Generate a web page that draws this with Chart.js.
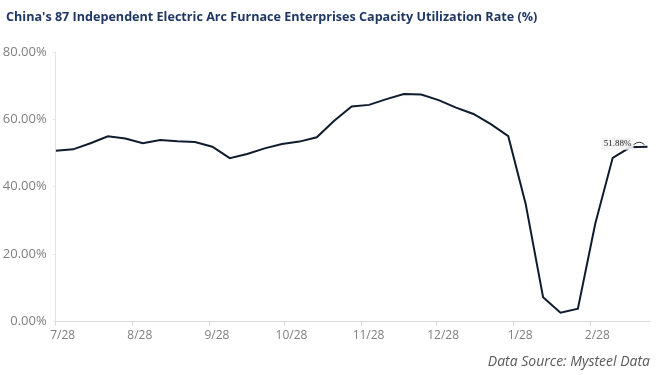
<!DOCTYPE html>
<html>
<head>
<meta charset="utf-8">
<script src="https://cdn.jsdelivr.net/npm/chart.js@4"></script>
<style>
  html, body { margin: 0; padding: 0; background: #ffffff; }
  #wrap { width: 660px; height: 375px; }
</style>
</head>
<body>
<div id="wrap"><canvas id="eafChart" width="660" height="375"></canvas></div>
<script>
const weekDates = [
    '2023-07-28', '2023-08-04', '2023-08-11', '2023-08-18', '2023-08-25',
    '2023-09-01', '2023-09-08', '2023-09-15', '2023-09-22', '2023-09-29',
    '2023-10-06', '2023-10-13', '2023-10-20', '2023-10-27', '2023-11-03',
    '2023-11-10', '2023-11-17', '2023-11-24', '2023-12-01', '2023-12-08',
    '2023-12-15', '2023-12-22', '2023-12-29', '2024-01-05', '2024-01-12',
    '2024-01-19', '2024-01-26', '2024-02-02', '2024-02-09', '2024-02-16',
    '2024-02-23', '2024-03-01', '2024-03-08', '2024-03-15', '2024-03-22'
];
const utilization = [
    50.7, 51.1, 52.9, 55.0, 54.3, 52.9, 53.9, 53.5, 53.3, 51.9,
    48.5, 49.7, 51.4, 52.7, 53.4, 54.7, 59.6, 63.8, 64.3, 66.0,
    67.5, 67.4, 65.7, 63.5, 61.6, 58.6, 55.0, 34.9, 7.2, 2.6,
    3.8, 29.1, 48.6, 51.7, 51.88
];
const tickDates = [
    '2023-07-28', '2023-08-28', '2023-09-28', '2023-10-28',
    '2023-11-28', '2023-12-28', '2024-01-28', '2024-02-28'
];
const tickLabels = ['7/28', '8/28', '9/28', '10/28', '11/28', '12/28', '1/28', '2/28'];
const yTicks = [0, 20, 40, 60, 80];
const chartTitle = "China's 87 Independent Electric Arc Furnace Enterprises Capacity Utilization Rate (%)";

(() => {
    const dayMs = 24 * 3600 * 1000;
    const start = Date.parse(weekDates[0]);
    const toDay = d => Math.round((Date.parse(d) - start) / dayMs);

    const points = weekDates.map((d, i) => ({ x: toDay(d), y: utilization[i] }));
    const tickDays = tickDates.map(toDay);
    const lastDay = points[points.length - 1].x;

    // title drawn by hand so it can sit a little in from the edge
    const topTitle = {
        id: 'topTitle',
        beforeDraw(chart) {
            const ctx = chart.ctx;
            ctx.save();
            ctx.font = '700 12.6px "Open Sans", sans-serif';
            ctx.fillStyle = '#1f3864';
            ctx.textAlign = 'left';
            ctx.textBaseline = 'middle';
            ctx.fillText(chartTitle, 6, 17);
            ctx.restore();
        }
    };

    // small label next to the latest value
    const lastLabel = {
        id: 'lastLabel',
        afterDatasetsDraw(chart) {
            const pt = chart.getDatasetMeta(0).data[points.length - 1];
            const ctx = chart.ctx;
            const text = utilization[utilization.length - 1].toFixed(2) + '%';
            ctx.save();
            ctx.font = '9px "Liberation Serif", serif';
            const w = ctx.measureText(text).width;
            const tx = pt.x - 16;
            const ty = pt.y - 3;
            ctx.fillStyle = 'rgba(243,243,243,0.9)';
            ctx.fillRect(tx - w - 2, ty - 6, w + 4, 12);
            ctx.fillStyle = '#222222';
            ctx.textAlign = 'right';
            ctx.textBaseline = 'middle';
            ctx.fillText(text, tx, ty);
            ctx.strokeStyle = '#333333';
            ctx.lineWidth = 1;
            ctx.beginPath();
            ctx.moveTo(tx + 2, ty + 1);
            ctx.quadraticCurveTo(tx + 8, ty - 4, pt.x - 3, pt.y - 2);
            ctx.stroke();
            ctx.restore();
        }
    };

    const ctx = document.getElementById('eafChart').getContext('2d');
    new Chart(ctx, {
        type: 'line',
        data: {
            datasets: [{
                label: 'Capacity Utilization Rate',
                data: points,
                borderColor: '#0f1c2e',
                borderWidth: 2,
                pointRadius: 0,
                tension: 0,
                fill: false
            }]
        },
        options: {
            responsive: false,
            animation: false,
            layout: { padding: { left: 0, right: 10, top: 52, bottom: 0 } },
            plugins: {
                legend: { display: false },
                tooltip: { enabled: false },
                title: { display: false },
                subtitle: {
                    display: true,
                    position: 'bottom',
                    align: 'end',
                    text: 'Data Source: Mysteel Data',
                    color: '#595959',
                    font: { family: '"Open Sans", sans-serif', size: 14, style: 'italic' },
                    padding: { top: 6, bottom: 5 }
                }
            },
            scales: {
                x: {
                    type: 'linear',
                    min: 0,
                    max: lastDay + 1,
                    afterBuildTicks: scale => {
                        scale.ticks = tickDays.map(v => ({ value: v }));
                    },
                    afterFit: scale => { scale.height = 25.7; },
                    grid: { drawOnChartArea: false, color: '#d9d9d9', tickLength: 4 },
                    border: { color: '#d9d9d9' },
                    ticks: {
                        color: '#7f7f7f',
                        font: { family: '"Open Sans", sans-serif', size: 12 },
                        padding: 3,
                        labelOffset: 7,
                        maxRotation: 0,
                        autoSkip: false,
                        callback: value => tickLabels[tickDays.indexOf(value)]
                    }
                },
                y: {
                    min: 0,
                    max: 80,
                    afterBuildTicks: scale => {
                        scale.ticks = yTicks.map(v => ({ value: v }));
                    },
                    afterFit: scale => { scale.width = 55.7; },
                    grid: { drawOnChartArea: false, color: '#e6e6e6', tickLength: 3 },
                    border: { color: '#e3e3e3' },
                    ticks: {
                        color: '#7f7f7f',
                        font: { family: '"Open Sans", sans-serif', size: 13 },
                        padding: 6,
                        callback: value => value.toFixed(2) + '%'
                    }
                }
            }
        },
        plugins: [topTitle, lastLabel]
    });
})();
</script>
</body>
</html>
